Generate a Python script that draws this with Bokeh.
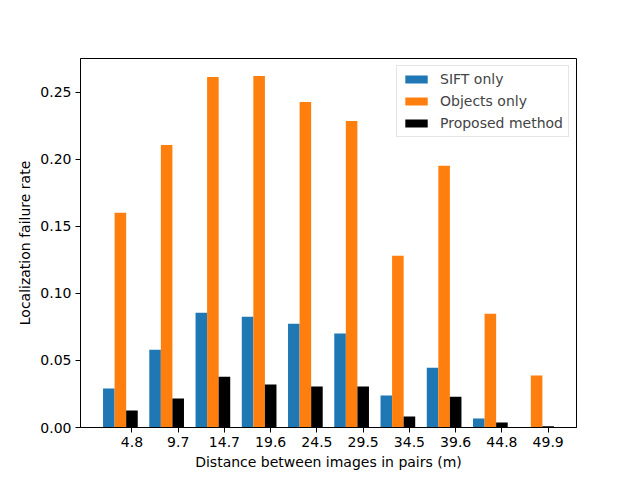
from bokeh.plotting import figure
from bokeh.models import FixedTicker, Range1d, Legend, LegendItem, NumeralTickFormatter
from bokeh.embed import file_html
from bokeh.resources import INLINE

distances = ["4.8", "9.7", "14.7", "19.6", "24.5", "29.5", "34.5", "39.6", "44.8", "49.9"]
sift_only = [0.029, 0.058, 0.0856, 0.0826, 0.0774, 0.070, 0.0238, 0.0446, 0.0067, 0.0]
objects_only = [0.160, 0.2106, 0.2612, 0.2619, 0.2426, 0.2284, 0.128, 0.195, 0.0848, 0.0387]
proposed = [0.0126, 0.0216, 0.0379, 0.032, 0.0305, 0.0305, 0.0082, 0.023, 0.0037, 0.0009]

w = 0.25
idx = list(range(len(distances)))

p = figure(width=632, height=472, output_backend="svg", toolbar_location=None,
           x_range=Range1d(-0.6125, 10.1125), y_range=Range1d(0, 0.275),
           min_border_left=80, min_border_right=56, min_border_top=58, min_border_bottom=45)

font = "DejaVu Sans"
r1 = p.vbar(x=[i for i in idx], top=sift_only, width=w, color="#1f77b4", line_color=None)
r2 = p.vbar(x=[i + w for i in idx], top=objects_only, width=w, color="#ff7f0e", line_color=None)
r3 = p.vbar(x=[i + 2 * w for i in idx], top=proposed, width=w, color="black", line_color=None)

p.xgrid.visible = False
p.ygrid.visible = False
p.outline_line_color = "black"
p.outline_line_width = 1

p.xaxis.ticker = FixedTicker(ticks=[i + 2 * w for i in idx])
p.xaxis.major_label_overrides = {i + 2 * w: d for i, d in zip(idx, distances)}
p.yaxis.ticker = FixedTicker(ticks=[0, 0.05, 0.10, 0.15, 0.20, 0.25])
p.yaxis.formatter = NumeralTickFormatter(format="0.00")

for ax in (p.xaxis[0], p.yaxis[0]):
    ax.axis_line_color = "black"
    ax.major_tick_line_color = "black"
    ax.major_tick_in = 0
    ax.major_tick_out = 5
    ax.minor_tick_line_color = None
    ax.major_label_text_font = font
    ax.major_label_text_font_size = "14px"
    ax.major_label_text_color = "black"
    ax.major_label_standoff = 4
    ax.axis_label_text_font = font
    ax.axis_label_text_font_size = "14px"
    ax.axis_label_text_font_style = "normal"
    ax.axis_label_text_color = "black"

p.xaxis.axis_label = "Distance between images in pairs (m)"
p.yaxis.axis_label = "Localization failure rate"
p.xaxis.axis_label_standoff = 4
p.yaxis.axis_label_standoff = 4

legend = Legend(items=[LegendItem(label="SIFT only", renderers=[r1]),
                       LegendItem(label="Objects only", renderers=[r2]),
                       LegendItem(label="Proposed method", renderers=[r3])],
                location="top_right", margin=7, padding=5, spacing=6,
                glyph_width=28, glyph_height=10, label_height=15, label_standoff=10,
                label_text_font=font, label_text_font_size="14px",
                border_line_color="#cccccc", border_line_width=1)
p.add_layout(legend)

open("out.html", "w").write(file_html(p, INLINE))
